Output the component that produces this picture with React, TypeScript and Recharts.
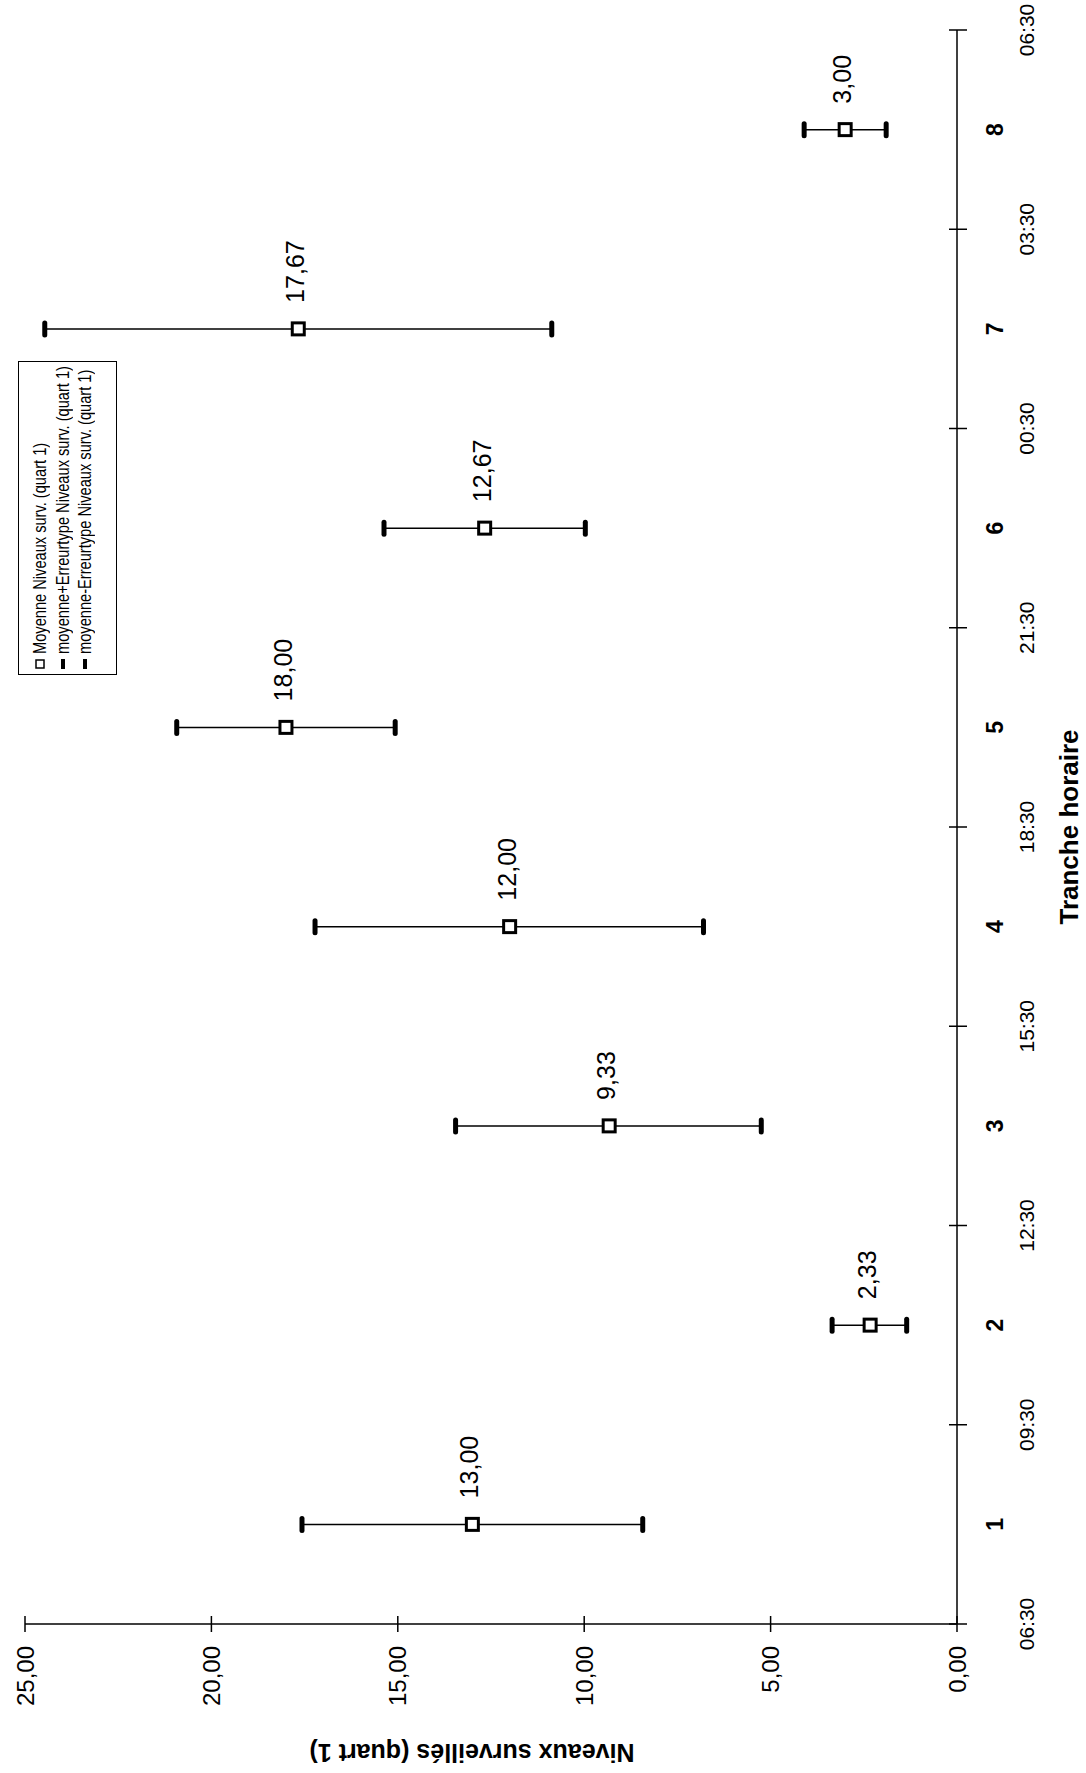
import React from 'react';
import { ComposedChart, Scatter, XAxis, YAxis, ErrorBar, Legend, Label } from 'recharts';

const categories = ['1', '2', '3', '4', '5', '6', '7', '8'];
const timeLabels = ['06:30', '09:30', '12:30', '15:30', '18:30', '21:30', '00:30', '03:30', '06:30'];
const meanValues = [13.0, 2.33, 9.33, 12.0, 18.0, 12.67, 17.67, 3.0];
const upperValues = [17.57, 3.35, 13.45, 17.22, 20.93, 15.37, 24.47, 4.1];
const lowerValues = [8.43, 1.35, 5.25, 6.8, 15.07, 9.97, 10.87, 1.9];
const valueTicks = [0, 5, 10, 15, 20, 25];
const seriesNames = [
  'Moyenne Niveaux surv. (quart 1)',
  'moyenne+Erreurtype Niveaux surv. (quart 1)',
  'moyenne-Erreurtype Niveaux surv. (quart 1)',
];
const xTitle = 'Tranche horaire';
const yTitle = 'Niveaux surveillés (quart 1)';

// each category sits in the middle of its time slot (slot i spans i..i+1 on the slot axis)
const rows = categories.map((cat, i) => ({
  cat,
  slot: i + 0.5,
  mean: meanValues[i],
  upper: upperValues[i],
  lower: lowerValues[i],
  range: [meanValues[i] - lowerValues[i], upperValues[i] - meanValues[i]],
}));
const timeIdx = timeLabels.map((_, i) => i);
const catSlots = rows.map((r) => r.slot);

const FONT = '"Liberation Sans", Arial, sans-serif';
const fmt = (v: number) => v.toFixed(2).replace('.', ',');

const ValueTick = (p: any) => (
  <g>
    <line x1={p.x - 8} x2={p.x + 8} y1={p.y} y2={p.y} stroke="#000" strokeWidth={1.5} />
    <text x={p.x - 22} y={p.y} textAnchor="end" dominantBaseline="central" fontSize={24} fontFamily={FONT} fill="#000">
      {fmt(p.payload.value)}
    </text>
  </g>
);

const CatTick = (p: any) => {
  const idx = catSlots.indexOf(p.payload.value);
  return (
    <text x={p.x} y={p.y + 38} textAnchor="middle" dominantBaseline="central" fontSize={23} fontWeight="bold" fontFamily={FONT} fill="#000">
      {categories[idx]}
    </text>
  );
};

const TimeTick = (p: any) => (
  <g>
    <line x1={p.x} x2={p.x} y1={p.y - 9} y2={p.y + 9} stroke="#000" strokeWidth={1.5} />
    <text x={p.x} y={p.y + 68} textAnchor="middle" dominantBaseline="central" fontSize={21} fontFamily={FONT} fill="#000">
      {timeLabels[p.payload.value]}
    </text>
  </g>
);

const CapShape = (p: any) => (
  <line x1={p.cx - 6} x2={p.cx + 6} y1={p.cy} y2={p.cy} stroke="#000" strokeWidth={5} strokeLinecap="round" />
);

const MeanShape = (p: any) => (
  <g>
    <rect x={p.cx - 6} y={p.cy - 6} width={12} height={12} fill="#fff" stroke="#000" strokeWidth={3} />
    <text x={p.cx + 26} y={p.cy - 3} dominantBaseline="central" fontSize={25} fontFamily={FONT} fill="#000">
      {fmt(p.payload.mean)}
    </text>
  </g>
);

const Empty = () => <g />;

const renderLegend = (props: any) => {
  const items = (props.payload || [])
    .filter((e: any) => seriesNames.includes(e.value))
    .sort((a: any, b: any) => seriesNames.indexOf(a.value) - seriesNames.indexOf(b.value));
  return (
    <div
      style={{
        border: '1.5px solid #000',
        boxSizing: 'border-box',
        width: 314,
        height: 99,
        padding: '10px 0 0 4px',
        background: '#fff',
        fontFamily: FONT,
        fontSize: 19,
        color: '#000',
      }}
    >
      {items.map((e: any, i: number) => (
        <div key={i} style={{ display: 'flex', alignItems: 'center', whiteSpace: 'nowrap', height: 22.5 }}>
          <svg width={12} height={12} style={{ flex: 'none' }}>
            {e.value === seriesNames[0] ? (
              <rect x={2} y={2} width={8} height={8} fill="#fff" stroke="#000" strokeWidth={1.5} />
            ) : (
              <line x1={1} x2={11} y1={6} y2={6} stroke="#000" strokeWidth={4} />
            )}
          </svg>
          <span style={{ marginLeft: 4, display: 'inline-block', transform: 'scaleX(0.77)', transformOrigin: '0 50%' }}>{e.value}</span>
        </div>
      ))}
    </div>
  );
};

export default function App() {
  return (
    <div style={{ position: 'absolute', left: 0, top: 0, width: 1086, height: 1773, overflow: 'hidden', background: '#fff' }}>
      <div
        style={{
          position: 'absolute',
          left: 0,
          top: 0,
          width: 1773,
          height: 1086,
          transformOrigin: '0 0',
          transform: 'translate(0px, 1773px) rotate(-90deg)',
        }}
      >
        <ComposedChart width={1773} height={1086} data={rows} margin={{ top: 25, right: 30, left: 148, bottom: 127 }}>
          <XAxis
            xAxisId="cat"
            dataKey="slot"
            type="number"
            domain={[0, timeLabels.length - 1]}
            ticks={catSlots}
            height={1}
            axisLine={{ stroke: '#000', strokeWidth: 1.5 }}
            tickLine={false}
            tickSize={0}
            tickMargin={0}
            interval={0}
            tick={CatTick}
          >
            <Label
              content={(lp: any) => {
                const vb = lp.viewBox || {};
                return (
                  <text x={vb.x + vb.width / 2} y={vb.y + 112} textAnchor="middle" dominantBaseline="central" fontSize={26} fontWeight="bold" fontFamily={FONT} fill="#000">
                    {xTitle}
                  </text>
                );
              }}
            />
          </XAxis>
          <XAxis
            xAxisId="time"
            dataKey="slot"
            type="number"
            domain={[0, timeLabels.length - 1]}
            allowDataOverflow
            ticks={timeIdx}
            height={1}
            axisLine={false}
            tickLine={false}
            tickSize={0}
            tickMargin={0}
            interval={0}
            tick={TimeTick}
          />
          <YAxis
            type="number"
            domain={[0, 25]}
            ticks={valueTicks}
            width={1}
            axisLine={{ stroke: '#000', strokeWidth: 1.5 }}
            tickLine={false}
            tickSize={0}
            tickMargin={0}
            interval={0}
            tick={ValueTick}
          >
            <Label
              content={(lp: any) => {
                const vb = lp.viewBox || {};
                const cx = 20;
                const cy = vb.y + vb.height / 2 - 19;
                return (
                  <text x={cx} y={cy} transform={`rotate(-90 ${cx} ${cy})`} textAnchor="middle" dominantBaseline="central" fontSize={25} fontWeight="bold" fontFamily={FONT} fill="#000">
                    {yTitle}
                  </text>
                );
              }}
            />
          </YAxis>
          <Legend
            layout="horizontal"
            verticalAlign="middle"
            align="center"
            content={renderLegend}
            wrapperStyle={{ left: 1098, top: 18, width: 314, height: 99 }}
          />
          <Scatter xAxisId="cat" dataKey="mean" name="bars" legendType="none" shape={Empty} isAnimationActive={false}>
            <ErrorBar dataKey="range" direction="y" width={0} stroke="#000" strokeWidth={1.5} isAnimationActive={false} />
          </Scatter>
          <Scatter xAxisId="cat" dataKey="mean" name={seriesNames[0]} shape={MeanShape} fill="#000" isAnimationActive={false} />
          <Scatter xAxisId="cat" dataKey="upper" name={seriesNames[1]} shape={CapShape} fill="#000" isAnimationActive={false} />
          <Scatter xAxisId="cat" dataKey="lower" name={seriesNames[2]} shape={CapShape} fill="#000" isAnimationActive={false} />
        </ComposedChart>
      </div>
    </div>
  );
}
